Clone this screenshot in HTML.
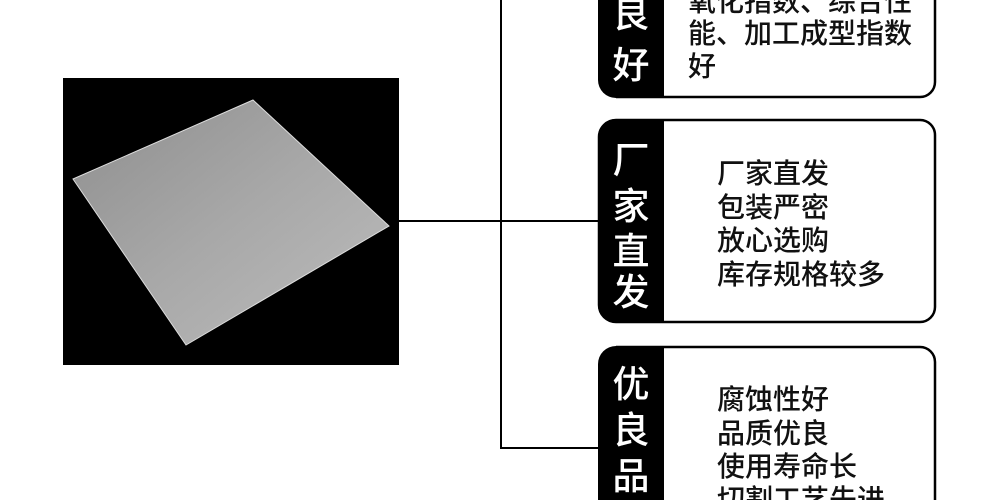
<!DOCTYPE html>
<html><head><meta charset="utf-8"><style>
html,body{margin:0;padding:0;background:#fff;width:1000px;height:500px;overflow:hidden}
svg{display:block}
text{font-family:"Liberation Sans","Noto Sans CJK SC",sans-serif;fill:#111;font-weight:500}
.w{fill:#fff}
</style></head><body>
<svg width="1000" height="500" viewBox="0 0 1000 500">
<defs>
<linearGradient id="g" x1="0" y1="0" x2="1" y2="1">
<stop offset="0" stop-color="#8e8e8e"/><stop offset="0.5" stop-color="#a8a8a8"/><stop offset="1" stop-color="#bdbdbd"/>
</linearGradient>
</defs>
<rect x="63" y="78" width="336" height="287" fill="#000"/>
<polygon points="253,100 389,226 186,345 73,179" fill="url(#g)" stroke="#ddd" stroke-width="1"/>
<g stroke="#000" stroke-width="2" fill="none">
<line x1="399" y1="221" x2="600" y2="221"/>
<line x1="501" y1="0" x2="501" y2="449"/>
<line x1="501" y1="448" x2="600" y2="448"/>
</g>
<!-- box1 -->
<path d="M935,0 V82 a15,15 0 0 1 -15,15 H616" fill="none" stroke="#000" stroke-width="2.5"/>
<path d="M598,0 H664 V98 H616 a18,18 0 0 1 -18,-18 Z" fill="#000"/>
<text class="w" x="631" y="27" font-size="37" text-anchor="middle">良</text>
<text class="w" x="631" y="78" font-size="37" text-anchor="middle">好</text>
<text x="688" y="11" font-size="28">氧化指数、综合性</text>
<text x="688" y="43" font-size="28">能、加工成型指数</text>
<text x="688" y="76" font-size="28">好</text>
<!-- box2 -->
<path d="M616,120 H920 a15,15 0 0 1 15,15 V307 a15,15 0 0 1 -15,15 H616 a17,17 0 0 1 -17,-17 V137 a17,17 0 0 1 17,-17 Z" fill="#fff" stroke="#000" stroke-width="2.5"/>
<path d="M616,119 H664 V323 H616 a18,18 0 0 1 -18,-18 V137 a18,18 0 0 1 18,-18 Z" fill="#000"/>
<text class="w" x="631" y="173" font-size="37" text-anchor="middle">厂</text>
<text class="w" x="631" y="219" font-size="37" text-anchor="middle">家</text>
<text class="w" x="631" y="264" font-size="37" text-anchor="middle">直</text>
<text class="w" x="631" y="305" font-size="37" text-anchor="middle">发</text>
<text x="717" y="183" font-size="28">厂家直发</text>
<text x="717" y="217" font-size="28">包装严密</text>
<text x="717" y="250" font-size="28">放心选购</text>
<text x="717" y="284" font-size="28">库存规格较多</text>
<!-- box3 -->
<path d="M616,347 H920 a15,15 0 0 1 15,15 V500" fill="none" stroke="#000" stroke-width="2.5"/>
<path d="M616,346 H664 V500 H598 V364 a18,18 0 0 1 18,-18 Z" fill="#000"/>
<text class="w" x="631" y="397" font-size="37" text-anchor="middle">优</text>
<text class="w" x="631" y="443" font-size="37" text-anchor="middle">良</text>
<text class="w" x="631" y="489" font-size="37" text-anchor="middle">品</text>
<text x="717" y="409" font-size="28">腐蚀性好</text>
<text x="717" y="443" font-size="28">品质优良</text>
<text x="717" y="476" font-size="28">使用寿命长</text>
<text x="717" y="509" font-size="28">切割工艺先进</text>
</svg>
</body></html>
